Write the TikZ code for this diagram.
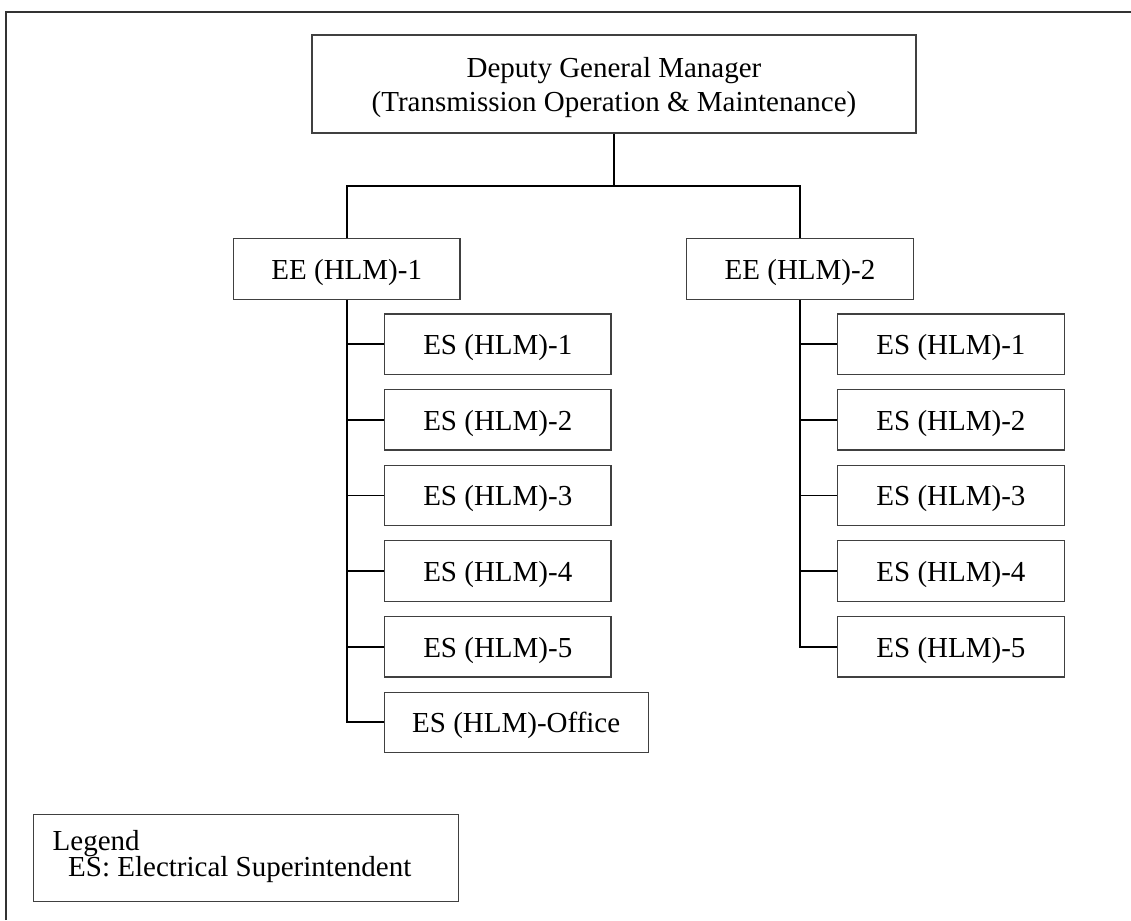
\documentclass[tikz,border=0pt]{standalone}
\usepackage{fontspec}
\setmainfont{Liberation Serif}
\begin{document}
\begin{tikzpicture}[x=1pt,y=-1pt,
  box/.style={draw=black!75, line width=1.1pt, inner sep=0pt, text depth=0pt, text height=21pt,
    font=\fontsize{29}{33.7}\selectfont},
  esbox/.style={box, minimum width=226.5pt, minimum height=60.4pt},
  link/.style={draw=black, line width=2pt},
  branch/.style={draw=black, line width=1.6pt},
  frame/.style={draw=black!80, line width=1.5pt},
  txt/.style={inner sep=0pt, font=\fontsize{29}{25}\selectfont}]
\useasboundingbox (0,0) rectangle (1131,920);
% frame (top and left edges visible)
\coordinate (fl) at (6,920);
\coordinate (fc) at (6,12);
\coordinate (fr) at (1131,12);
\draw[frame] (fl) -- (fc) -- (fr);
% top box
\node[box, minimum width=604pt, minimum height=98pt] (top) at (614,84) {};
\node[inner sep=0pt, align=center, font=\fontsize{29}{33.9}\selectfont] (toptext) at ([yshift=-3.5pt]top.center)
  {Deputy General Manager\\(Transmission Operation \& Maintenance)};
% EE boxes
\node[esbox, minimum width=226.5pt] (ee1) at (346.75,268.85) {EE (HLM)-1};
\node[esbox, minimum width=227pt] (ee2) at (800,268.85) {EE (HLM)-2};
% left ES column
\node[esbox] (l1) at (497.75,344.2) {ES (HLM)-1};
\node[esbox] (l2) at (497.75,419.8) {ES (HLM)-2};
\node[esbox] (l3) at (497.75,495.4) {ES (HLM)-3};
\node[esbox] (l4) at (497.75,571.0) {ES (HLM)-4};
\node[esbox] (l5) at (497.75,646.8) {ES (HLM)-5};
\node[esbox, minimum width=264.3pt] (lo) at (516.2,722.3) {ES (HLM)-Office};
% right ES column
\node[esbox] (r1) at (950.9,344.2) {ES (HLM)-1};
\node[esbox] (r2) at (950.9,419.8) {ES (HLM)-2};
\node[esbox] (r3) at (950.9,495.4) {ES (HLM)-3};
\node[esbox] (r4) at (950.9,571.0) {ES (HLM)-4};
\node[esbox] (r5) at (950.9,646.8) {ES (HLM)-5};
% connectors top -> EE
\coordinate (bus) at (614,186);
\draw[link] (top.south) -- (bus);
\draw[link] (ee1.north) |- (bus) -| (ee2.north);
% left stem
\draw[link] (ee1.south) |- (lo.west);
\foreach \n in {l1,l2,l3,l4,l5} \draw[branch] (ee1.south |- \n.west) -- (\n.west);
% right stem
\draw[link] (ee2.south) |- (r5.west);
\foreach \n in {r1,r2,r3,r4} \draw[branch] (ee2.south |- \n.west) -- (\n.west);
% legend
\node[draw=black!75, line width=1.1pt, inner sep=0pt, minimum width=425pt, minimum height=87pt, anchor=north west] (legend) at (32.5,814) {};
\node[txt, anchor=base west] (leg1) at (52.5,850.7) {Legend};
\node[txt, anchor=base west] (leg2) at (68,876.5) {ES: Electrical Superintendent};
\end{tikzpicture}
\end{document}
